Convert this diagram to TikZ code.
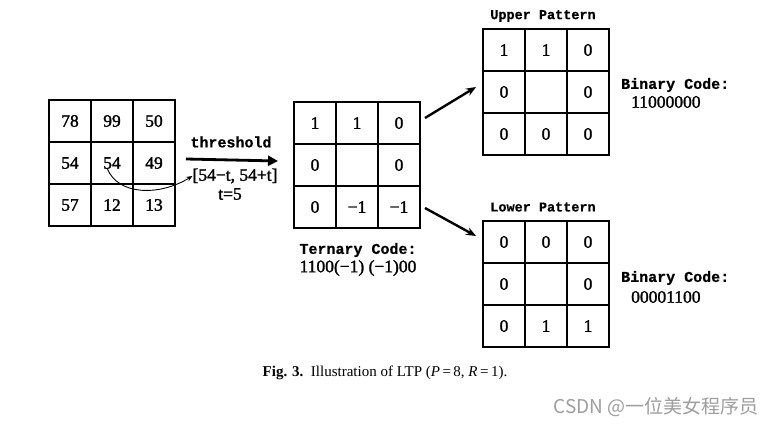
\documentclass[tikz,border=0pt]{standalone}
\usepackage{fontspec}
\setmainfont{Liberation Serif}
\newfontfamily\numf[FakeBold=1.6]{Liberation Serif}
\newfontfamily\monof[FakeBold=0.6]{Liberation Mono Bold}
\newfontfamily\cjkf{Noto Sans CJK SC}
\usetikzlibrary{arrows.meta,calc}
\tikzset{
  gridbox/.style={draw, line width=2.6pt, minimum width=126pt, minimum height=126pt,
    anchor=north west, inner sep=0pt, outer sep=0pt},
  gridline/.style={line width=2.6pt},
  cellnum/.style={font=\numf\fontsize{17.5}{18}\selectfont, inner sep=1pt},
  lbl/.style={font=\monof\fontsize{15}{16}\selectfont, inner sep=0pt},
  sernum/.style={font=\numf\fontsize{17.5}{18}\selectfont, inner sep=0pt},
  bigarrow/.style={line width=2.8pt, -{Triangle[length=10pt,width=10pt]}},
  diagarrow/.style={line width=2.4pt, -{Stealth[length=10pt,width=8pt]}},
  thinarrow/.style={line width=0.9pt, -{Stealth[length=6pt,width=5pt]}},
}
\newcommand\ltpgrid[4]{%
  \node[gridbox] (#1) at (#2,#3) {};
  \draw[gridline] (#2+42,#3) -- (#2+42,#3+126);
  \draw[gridline] (#2+84,#3) -- (#2+84,#3+126);
  \draw[gridline] (#2,#3+42) -- (#2+126,#3+42);
  \draw[gridline] (#2,#3+84) -- (#2+126,#3+84);
  \foreach \v [count=\i from 0] in {#4} {
    \pgfmathtruncatemacro\cc{mod(\i,3)}
    \pgfmathtruncatemacro\rr{div(\i,3)}
    \node[cellnum] (#1-\i) at (#2+21+42*\cc, #3+21+42*\rr) {\v};
  }%
}
\begin{document}
\begin{tikzpicture}[x=1pt,y=-1pt]
\useasboundingbox[fill=white] (0,0) rectangle (783,428);

\ltpgrid{g1}{49}{100}{78,99,50,54,54,49,57,12,13}
\ltpgrid{g2}{294}{102}{1,1,0,0,{},0,0,−1,−1}
\ltpgrid{g3}{483}{29}{1,1,0,0,{},0,0,0,0}
\ltpgrid{g4}{483}{221}{0,0,0,0,{},0,0,1,1}

% threshold arrow
\coordinate (t0) at ($(g1.east)+(11,-4)$);
\coordinate (t1) at ($(g2.west)+(-16,-4)$);
\draw[bigarrow] (t0) -- (t1);
\node[lbl] (thr) at (231,142) {threshold};
\node[sernum] (rng) at (235,176) {[54−t, 54+t]};
\node[sernum] (tv) at (230,194) {t=5};

% curved arrow from centre value to range
\coordinate (c0) at ($(g1-4.south)+(-5,-2)$);
\draw[thinarrow] (c0) .. controls (118,196) and (160,196) .. (rng.west);

% ternary code
\node[lbl] (tern) at (358,250) {Ternary Code:};
\node[sernum] (terncode) at (358,268) {1100(−1) (−1)00};

% arrows to patterns
\coordinate (u0) at ($(g2.north east)+(5,16)$);
\coordinate (u1) at ($(g3.north west)+(-7,58)$);
\draw[diagarrow] (u0) -- (u1);
\coordinate (l0) at ($(g2.south east)+(5,-20)$);
\coordinate (l1) at ($(g4.north west)+(-7,15)$);
\draw[diagarrow] (l0) -- (l1);

% pattern titles
\node[lbl, font=\monof\fontsize{13.5}{14}\selectfont] (up) at (543,16) {Upper Pattern};
\node[lbl, font=\monof\fontsize{13.5}{14}\selectfont] (lp) at (543,207) {Lower Pattern};

% binary codes
\node[lbl, anchor=west] (b1) at (621,85) {Binary Code:};
\node[sernum, anchor=west] (b1c) at (631,102) {11000000};
\node[lbl, anchor=west] (b2) at (621,278) {Binary Code:};
\node[sernum, anchor=west] (b2c) at (631,297) {00001100};

% caption
\node[font=\fontsize{15}{16}\selectfont] (cap) at (385,373)
  {\textbf{Fig. 3.}\ \ Illustration of LTP (\textit{P}\,=\,8, \textit{R}\,=\,1).};

% watermark
\node[font=\cjkf\fontsize{19}{20}\selectfont, text=black!38, anchor=east] (wm) at (762,407)
  {CSDN @一位美女程序员};
\end{tikzpicture}
\end{document}
